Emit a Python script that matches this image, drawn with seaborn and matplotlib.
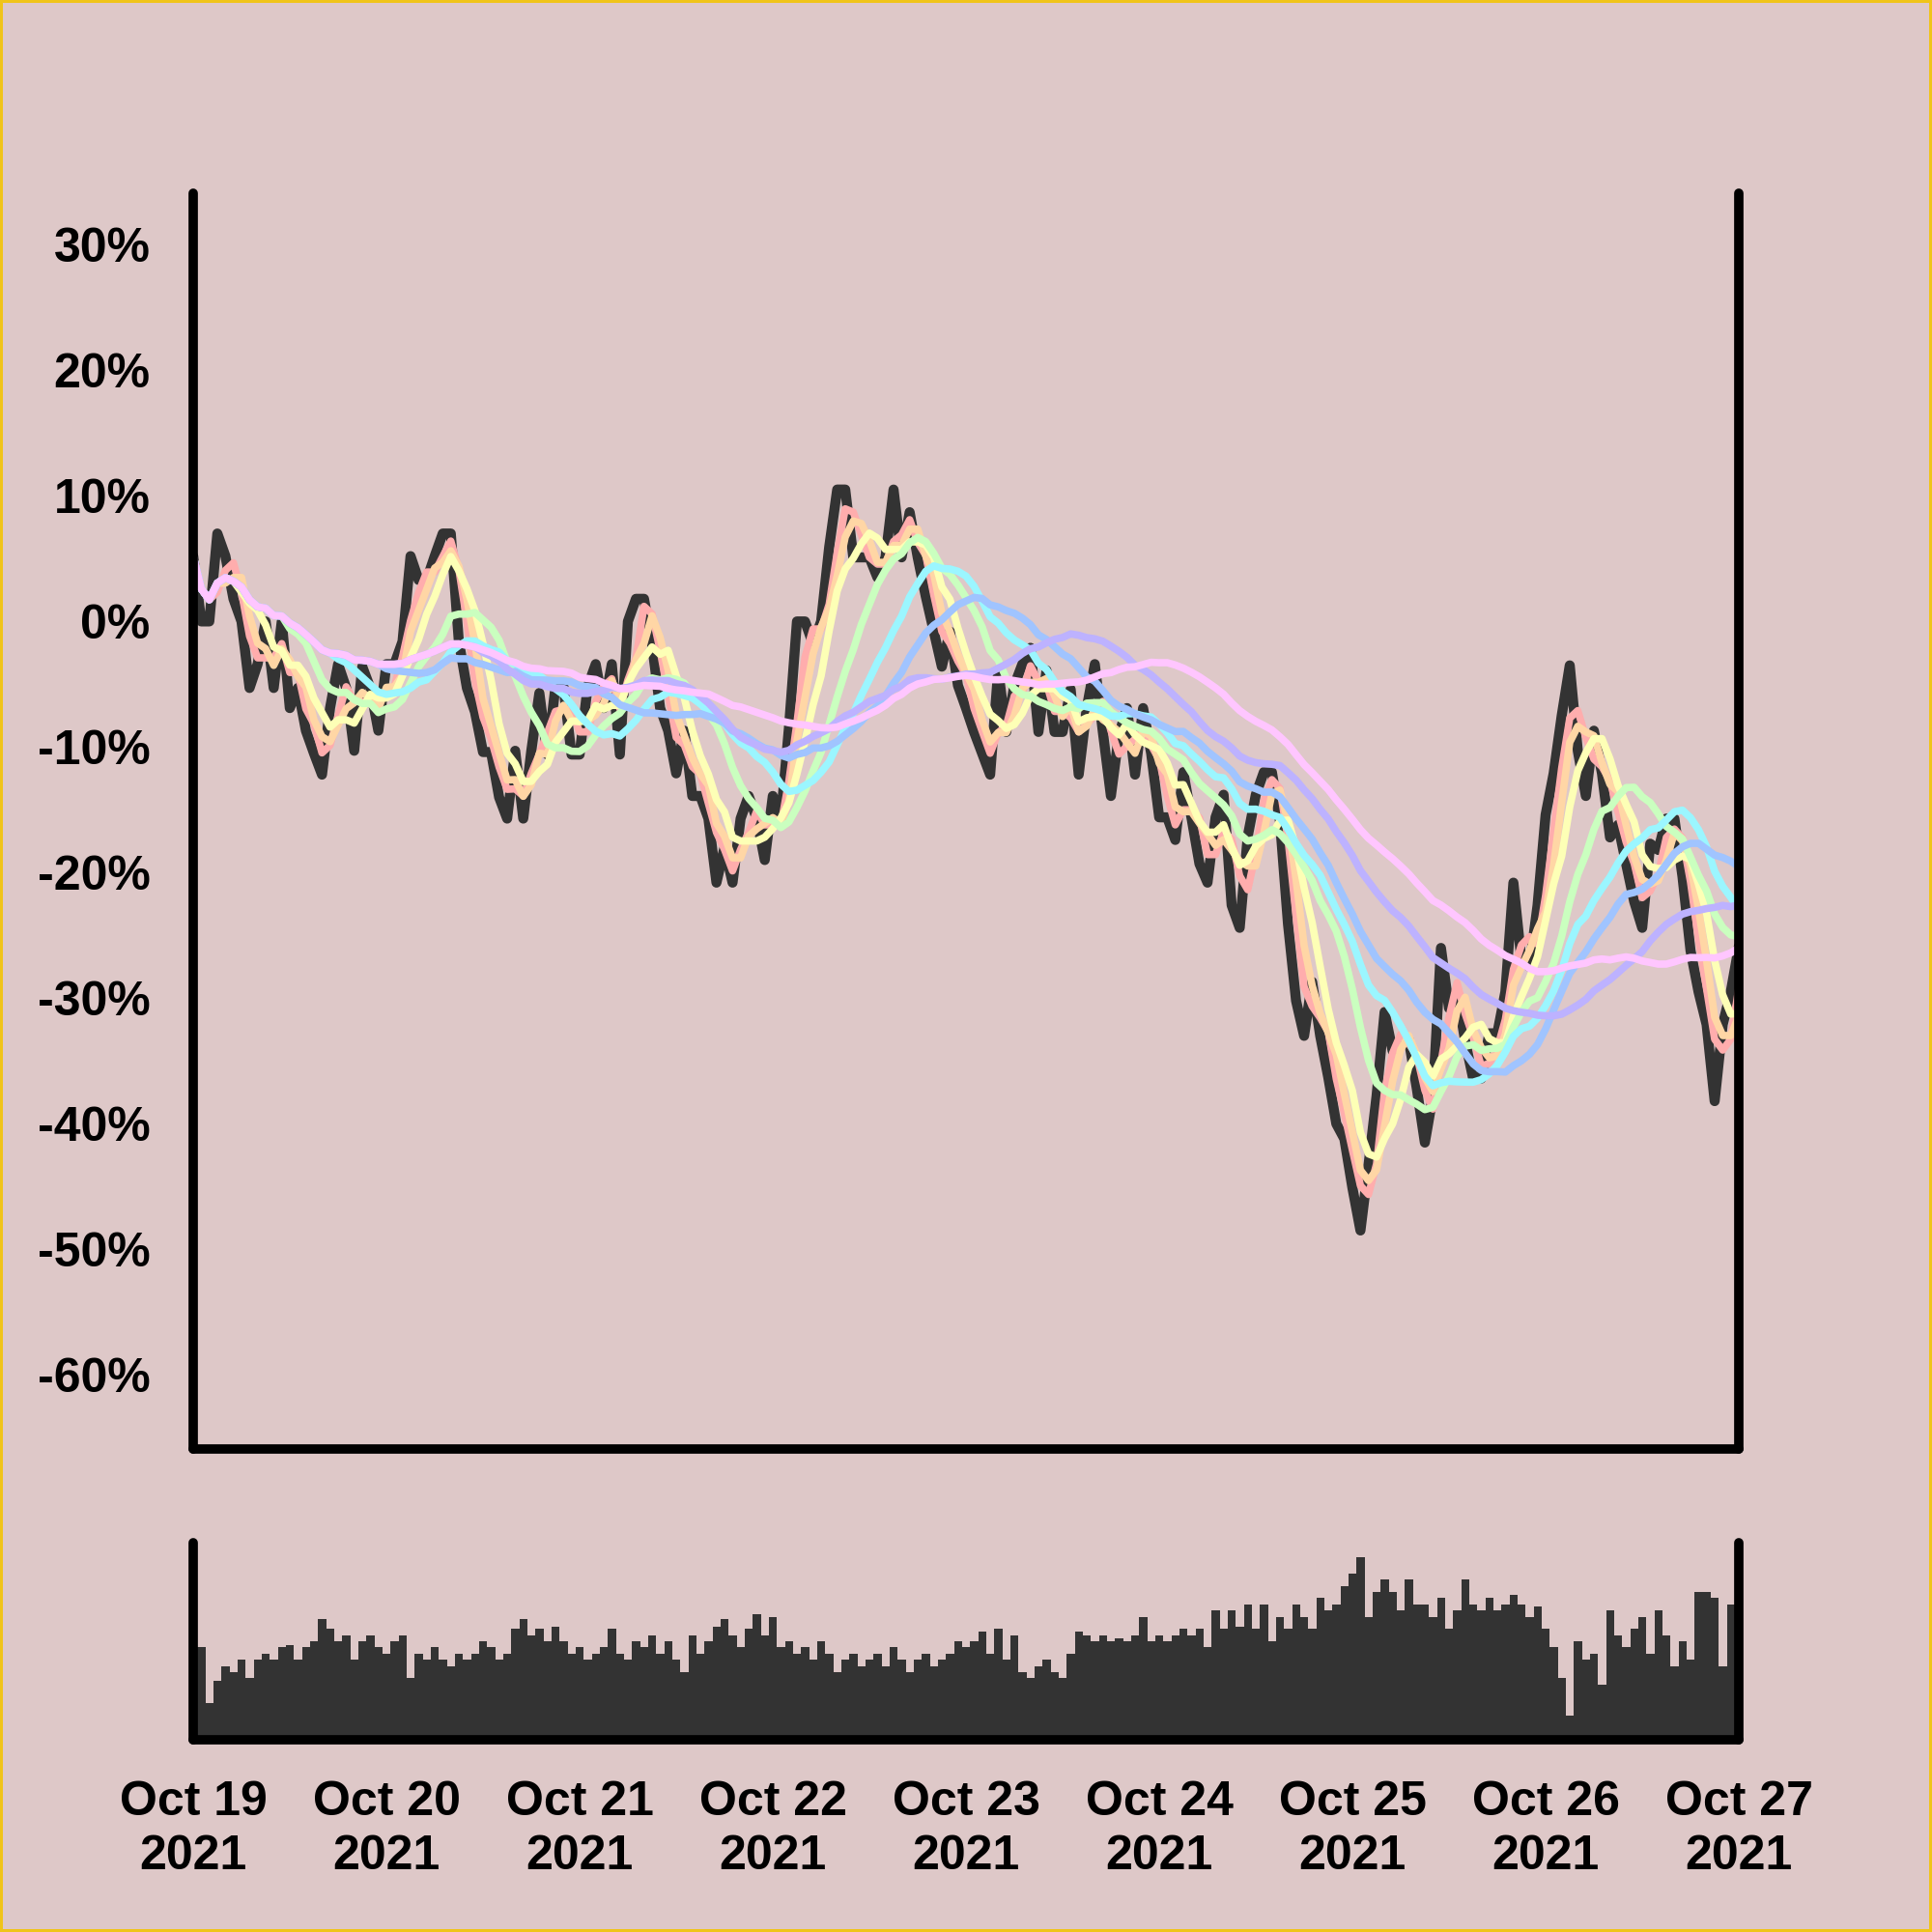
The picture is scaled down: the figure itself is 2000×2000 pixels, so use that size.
import matplotlib
matplotlib.use('Agg')
import matplotlib.pyplot as plt
import matplotlib.dates as mdates
from matplotlib.ticker import FuncFormatter
import seaborn as sns
import pandas as pd

# hourly change vs. start (%), Oct 19 00:00 -> Oct 27 00:00
price_pct = [
    5.2, 0.0, 0.0, 7.0, 5.2, 1.8, 0.0, -5.3, -3.4, 0.0,
    -5.3, 0.0, -6.9, -5.3, -8.7, -10.5, -12.2, -6.9, -3.4, -5.3,
    -10.3, -3.6, -5.3, -8.7, -3.4, -3.4, -1.6, 5.2, 3.3, 3.3,
    5.2, 7.0, 7.0, -1.6, -5.3, -7.2, -10.4, -10.4, -14.0, -15.7,
    -10.3, -15.7, -10.3, -5.7, -10.6, -5.2, -5.2, -10.6, -10.6, -5.2,
    -3.4, -6.9, -3.4, -10.6, 0.0, 1.8, 1.8, -1.8, -6.9, -8.7,
    -12.1, -8.7, -13.9, -13.9, -15.7, -20.8, -18.0, -20.8, -15.7, -13.9,
    -15.7, -19.0, -13.9, -15.7, -8.5, 0.0, 0.0, -1.8, 0.0, 5.9,
    10.5, 10.5, 5.1, 5.1, 5.1, 3.5, 5.1, 10.5, 5.1, 8.7,
    5.1, 2.0, -0.8, -3.6, -0.8, -5.1, -6.9, -8.8, -10.5, -12.2,
    -3.9, -8.8, -5.1, -3.4, -2.1, -8.8, -3.9, -8.8, -8.8, -5.4,
    -12.2, -6.9, -3.4, -8.8, -13.9, -9.0, -6.9, -12.2, -6.9, -10.5,
    -15.6, -15.6, -17.4, -12.0, -15.6, -19.3, -20.8, -15.6, -13.8, -22.6,
    -24.4, -17.1, -13.8, -12.0, -12.0, -15.9, -24.1, -30.2, -33.0, -28.7,
    -33.0, -36.3, -40.0, -41.2, -45.1, -48.5, -43.3, -37.8, -31.1, -34.2,
    -33.3, -33.3, -37.2, -41.5, -37.8, -26.0, -30.8, -29.5, -33.4, -36.4,
    -36.4, -32.8, -32.8, -29.5, -20.8, -27.0, -27.5, -22.6, -15.4, -12.1,
    -7.5, -3.5, -10.3, -13.9, -8.7, -12.1, -17.2, -16.2, -19.3, -22.3,
    -24.4, -17.7, -18.2, -15.7, -15.7, -20.3, -26.2, -29.5, -32.1, -38.2,
    -32.1, -29.5, -25.9,
]

# hourly volume (relative units)
volume = [
    77, 75, 30, 48, 60, 55, 65, 50, 65, 70,
    65, 75, 77, 65, 75, 80, 98, 90, 80, 85,
    65, 80, 85, 75, 70, 80, 85, 50, 70, 65,
    75, 65, 60, 70, 65, 70, 80, 75, 65, 70,
    90, 98, 85, 90, 80, 92, 80, 70, 75, 65,
    70, 75, 90, 70, 65, 80, 75, 85, 70, 80,
    65, 55, 85, 70, 80, 92, 98, 85, 75, 90,
    102, 85, 100, 75, 80, 70, 75, 65, 80, 70,
    55, 65, 70, 60, 65, 70, 60, 75, 65, 55,
    65, 70, 60, 65, 70, 80, 75, 80, 88, 70,
    90, 65, 85, 55, 50, 60, 65, 55, 50, 70,
    88, 85, 80, 85, 80, 82, 80, 85, 100, 80,
    85, 80, 85, 90, 85, 90, 75, 105, 90, 105,
    92, 110, 90, 110, 80, 100, 90, 110, 100, 90,
    115, 105, 110, 125, 135, 148, 100, 120, 130, 120,
    105, 130, 110, 110, 100, 115, 90, 105, 130, 110,
    105, 115, 105, 110, 118, 110, 100, 108, 90, 75,
    50, 20, 80, 65, 70, 45, 105, 85, 75, 90,
    100, 70, 105, 85, 60, 80, 65, 120, 120, 115,
    60, 110, 105,
]

ma_windows = [3, 4, 6, 12, 18, 24, 36, 48]
ma_colors = ['#FFADAD', '#FFD6A5', '#FDFFB6', '#CAFFBF',
             '#9BF6FF', '#A0C4FF', '#BDB2FF', '#FFC6FF']

bg = '#dec8c8'
ink = '#333333'

df = pd.DataFrame({
    'time': pd.date_range('2021-10-19 00:00', periods=len(price_pct), freq='h'),
    'price': price_pct,
    'volume': volume,
})
for w in ma_windows:
    df[f'ma{w}'] = df['price'].rolling(w, min_periods=1).mean()

sns.set_style('white')
plt.rcParams['font.family'] = ['Liberation Sans', 'DejaVu Sans']
plt.rcParams['font.weight'] = 'bold'
plt.rcParams['text.color'] = 'black'
plt.rcParams['xtick.color'] = 'black'
plt.rcParams['ytick.color'] = 'black'

fig = plt.figure(figsize=(20, 20), dpi=100)
fig.patch.set_facecolor(bg)
fig.patch.set_edgecolor('#f0c419')
fig.patch.set_linewidth(3)

ax = fig.add_axes([0.1, 0.25, 0.8, 0.65])
axv = fig.add_axes([0.1, 0.0995, 0.8, 0.102])

# price and moving averages
sns.lineplot(data=df, x='time', y='price', ax=ax, color=ink)
for w, c in zip(ma_windows, ma_colors):
    sns.lineplot(data=df, x='time', y=f'ma{w}', ax=ax, color=c)
for i, line in enumerate(ax.lines):
    line.set_linewidth(7.5 if i == 0 else 5.5)
    line.set_solid_joinstyle('round')
    line.set_solid_capstyle('round')

# volume
axv.bar(df['time'], df['volume'], width=1 / 24, color=ink, linewidth=0)

x0, x1 = df['time'].iloc[0], df['time'].iloc[-1]
for a in (ax, axv):
    a.set_facecolor(bg)
    a.set_xlim(x0, x1)
    a.set_xlabel('')
    a.set_ylabel('')
    a.spines['top'].set_visible(False)
    for s in ('left', 'right', 'bottom'):
        a.spines[s].set_linewidth(7)
        a.spines[s].set_color('black')
        a.spines[s].set_capstyle('round')

ax.set_ylim(-65.9, 34.1)
ax.set_yticks(range(-60, 31, 10))
ax.yaxis.set_major_formatter(FuncFormatter(lambda v, p: f'{v:.0f}%'))
ax.set_xticks([])
ax.tick_params(axis='y', length=14, width=3, pad=18, labelsize=36,
               color='black', labelcolor='black')

axv.set_ylim(0, 160)
axv.set_yticks([])
axv.xaxis.set_major_locator(mdates.DayLocator())
axv.xaxis.set_major_formatter(mdates.DateFormatter('%b %d\n%Y'))
axv.tick_params(axis='x', length=16, width=3, pad=14, labelsize=36,
                color='black', labelcolor='black')

for lab in ax.get_yticklabels() + axv.get_xticklabels():
    lab.set_fontweight('bold')
for lab in axv.get_xticklabels():
    lab.set_linespacing(1.3)

fig.savefig('out.png', dpi=100, facecolor=fig.get_facecolor(),
            edgecolor=fig.get_edgecolor())
plt.close(fig)
